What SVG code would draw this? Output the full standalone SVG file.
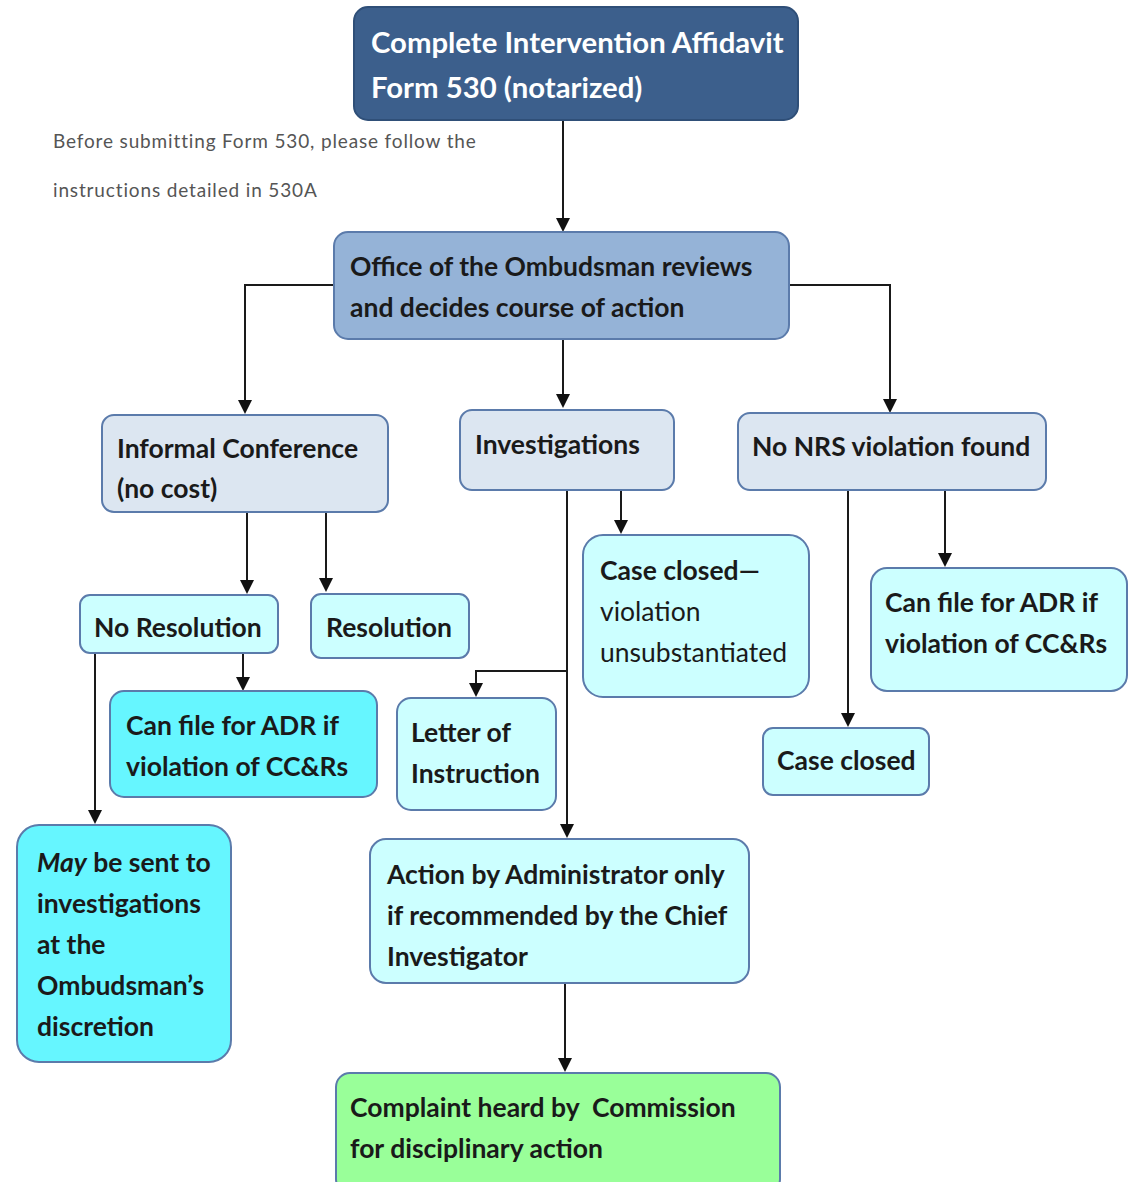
<svg xmlns="http://www.w3.org/2000/svg" width="1128" height="1182" viewBox="0 0 1128 1182">
<defs>
<marker id="ah" markerWidth="14" markerHeight="14" refX="12" refY="7" orient="auto" markerUnits="userSpaceOnUse">
<path d="M0,0 L14,7 L0,14 Z" fill="#111"/>
</marker>
<style>
.t{font-family:Lato,"Liberation Sans",sans-serif;font-weight:bold;font-size:26.5px;fill:#1a1a1a}
.r{font-weight:normal}
.w{fill:#ffffff;font-size:29.3px}
.note{font-family:Lato,"Liberation Sans",sans-serif;font-size:19px;letter-spacing:0.85px;fill:#555}
.b{stroke:#5b7bab;stroke-width:2}
.c{fill:none;stroke:#1a1a1a;stroke-width:2}
</style>
</defs>
<rect width="1128" height="1182" fill="#ffffff"/>

<g id="connectors">
<path class="c" d="M563,120 V230" marker-end="url(#ah)"/>
<path class="c" d="M334,285 H245 V412" marker-end="url(#ah)"/>
<path class="c" d="M563,339 V406" marker-end="url(#ah)"/>
<path class="c" d="M789,285 H890 V411" marker-end="url(#ah)"/>
<path class="c" d="M247,512 V592" marker-end="url(#ah)"/>
<path class="c" d="M326,512 V590" marker-end="url(#ah)"/>
<path class="c" d="M243,653 V689" marker-end="url(#ah)"/>
<path class="c" d="M95,653 V822" marker-end="url(#ah)"/>
<path class="c" d="M567,490 V836" marker-end="url(#ah)"/>
<path class="c" d="M567,671 H476 V695" marker-end="url(#ah)"/>
<path class="c" d="M621,490 V532" marker-end="url(#ah)"/>
<path class="c" d="M565,983 V1070" marker-end="url(#ah)"/>
<path class="c" d="M848,490 V725" marker-end="url(#ah)"/>
<path class="c" d="M945,490 V565" marker-end="url(#ah)"/>
</g>

<g id="n_top">
<rect x="354" y="7" width="444" height="113" rx="14" fill="#3c5f8c" stroke="#2f4f78" stroke-width="2"/>
<text class="t w" x="371" y="53">Complete Intervention Affidavit</text>
<text class="t w" x="371" y="98">Form 530 (notarized)</text>
</g>

<g id="n_note">
<text class="note" x="53" y="148">Before submitting Form 530, please follow the</text>
<text class="note" x="53" y="197">instructions detailed in 530A</text>
</g>

<g id="n_office">
<rect class="b" x="334" y="232" width="455" height="107" rx="14" fill="#95b3d7"/>
<text class="t" x="350" y="276">Office of the Ombudsman reviews</text>
<text class="t" x="350" y="317">and decides course of action</text>
</g>

<g id="n_informal">
<rect class="b" x="102" y="415" width="286" height="97" rx="12" fill="#dce6f1"/>
<text class="t" x="117" y="458">Informal Conference</text>
<text class="t" x="117" y="498">(no cost)</text>
</g>

<g id="n_invest">
<rect class="b" x="460" y="410" width="214" height="80" rx="12" fill="#dce6f1"/>
<text class="t" x="475" y="454">Investigations</text>
</g>

<g id="n_nonrs">
<rect class="b" x="738" y="413" width="308" height="77" rx="12" fill="#dce6f1"/>
<text class="t" x="752" y="456">No NRS violation found</text>
</g>

<g id="n_nores">
<rect class="b" x="80" y="595" width="198" height="58" rx="10" fill="#ccffff"/>
<text class="t" x="94" y="637">No Resolution</text>
</g>

<g id="n_res">
<rect class="b" x="311" y="594" width="158" height="64" rx="10" fill="#ccffff"/>
<text class="t" x="326" y="637">Resolution</text>
</g>

<g id="n_adr_left">
<rect class="b" x="110" y="691" width="267" height="106" rx="14" fill="#66f6ff"/>
<text class="t" x="126" y="735">Can file for ADR if</text>
<text class="t" x="126" y="776">violation of CC&amp;Rs</text>
</g>

<g id="n_may">
<rect class="b" x="17" y="825" width="214" height="237" rx="22" fill="#66f6ff"/>
<text class="t" x="37" y="872"><tspan font-style="italic">May</tspan> be sent to</text>
<text class="t" x="37" y="913">investigations</text>
<text class="t" x="37" y="954">at the</text>
<text class="t" x="37" y="995">Ombudsman’s</text>
<text class="t" x="37" y="1036">discretion</text>
</g>

<g id="n_closed_unsub">
<rect class="b" x="583" y="535" width="226" height="162" rx="20" fill="#ccffff"/>
<text class="t" x="600" y="580">Case closed—</text>
<text class="t r" x="600" y="621">violation</text>
<text class="t r" x="600" y="662">unsubstantiated</text>
</g>

<g id="n_letter">
<rect class="b" x="397" y="698" width="159" height="112" rx="14" fill="#ccffff"/>
<text class="t" x="411" y="742">Letter of</text>
<text class="t" x="411" y="783">Instruction</text>
</g>

<g id="n_action">
<rect class="b" x="370" y="839" width="379" height="144" rx="16" fill="#ccffff"/>
<text class="t" x="387" y="884">Action by Administrator only</text>
<text class="t" x="387" y="925">if recommended by the Chief</text>
<text class="t" x="387" y="966">Investigator</text>
</g>

<g id="n_complaint">
<rect class="b" x="336" y="1073" width="444" height="120" rx="14" fill="#99ff99"/>
<text class="t" x="350" y="1117">Complaint heard by&#160; Commission</text>
<text class="t" x="350" y="1158">for disciplinary action</text>
</g>

<g id="n_closed">
<rect class="b" x="763" y="728" width="166" height="67" rx="10" fill="#ccffff"/>
<text class="t" x="777" y="770">Case closed</text>
</g>

<g id="n_adr_right">
<rect class="b" x="871" y="568" width="256" height="123" rx="16" fill="#ccffff"/>
<text class="t" x="885" y="612">Can file for ADR if</text>
<text class="t" x="885" y="653">violation of CC&amp;Rs</text>
</g>
</svg>
